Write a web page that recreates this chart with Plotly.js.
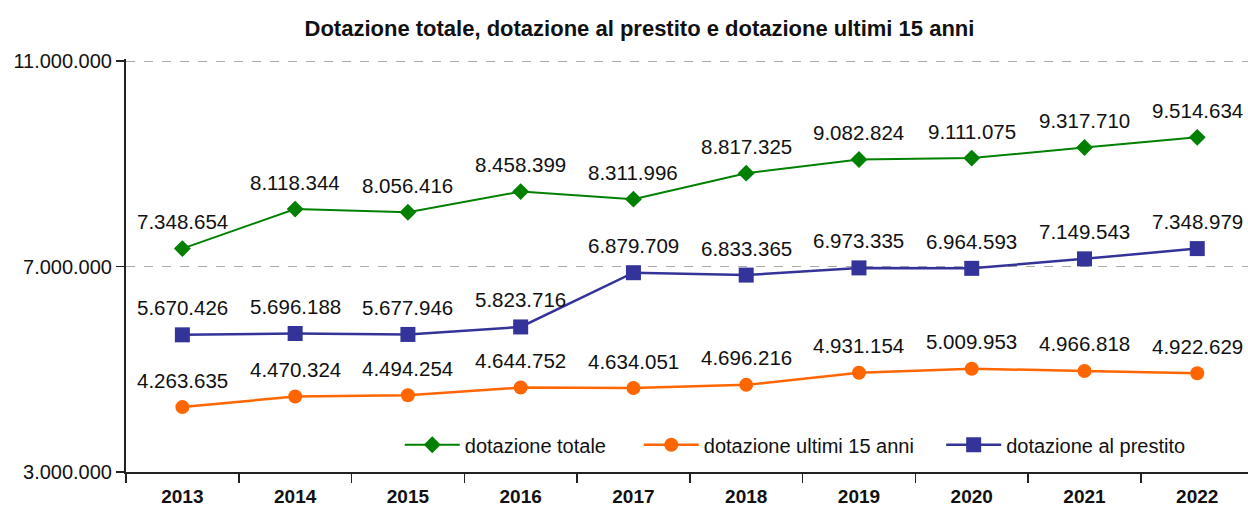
<!DOCTYPE html>
<html>
<head>
<meta charset="utf-8">
<script src="https://cdn.plot.ly/plotly-3.0.1.min.js"></script>
<style>html,body{margin:0;padding:0;background:#fff;}#chart{width:1248px;height:509px;}</style>
</head>
<body>
<div id="chart"></div>
<script>
const years = ['2013','2014','2015','2016','2017','2018','2019','2020','2021','2022'];
const dotazioneTotale = [7348654, 8118344, 8056416, 8458399, 8311996, 8817325, 9082824, 9111075, 9317710, 9514634];
const dotazioneUltimi15 = [4263635, 4470324, 4494254, 4644752, 4634051, 4696216, 4931154, 5009953, 4966818, 4922629];
const dotazionePrestito = [5670426, 5696188, 5677946, 5823716, 6879709, 6833365, 6973335, 6964593, 7149543, 7348979];
const seriesNames = ['dotazione totale', 'dotazione ultimi 15 anni', 'dotazione al prestito'];
const yTicks = [3000000, 7000000, 11000000];

function fmt(n){ return String(n).replace(/\B(?=(\d{3})+(?!\d))/g, '.'); }
const PAD1 = '\u00a0\u00a0\u00a0\u00a0\u00a0';
const PAD2 = '\u00a0\u00a0\u00a0\u00a0';

const FONT = 'Liberation Sans, Arial, sans-serif';

const traces = [
  {x: years, y: dotazioneTotale, name: seriesNames[0] + PAD1, type: 'scatter', mode: 'lines+markers',
   line: {color: '#008000', width: 2}, marker: {symbol: 'diamond', size: 13, color: '#008000'}},
  {x: years, y: dotazioneUltimi15, name: seriesNames[1] + PAD2, type: 'scatter', mode: 'lines+markers',
   line: {color: '#FF6600', width: 2.5}, marker: {symbol: 'circle', size: 14, color: '#FF6600'}},
  {x: years, y: dotazionePrestito, name: seriesNames[2], type: 'scatter', mode: 'lines+markers',
   line: {color: '#333399', width: 2.5}, marker: {symbol: 'square', size: 15, color: '#333399'}}
];

const annotations = [];
[dotazioneTotale, dotazioneUltimi15, dotazionePrestito].forEach(series => {
  series.forEach((v, i) => {
    annotations.push({x: i, y: v, xref: 'x', yref: 'y', text: fmt(v), showarrow: false,
      xanchor: 'center', yanchor: 'middle', yshift: 27,
      font: {family: FONT, size: 20.5, color: '#111'}});
  });
});

const layout = {
  width: 1248, height: 509,
  margin: {l: 126, r: 0, t: 59, b: 37},
  paper_bgcolor: '#fff', plot_bgcolor: '#fff',
  separators: ',.',
  font: {family: FONT, size: 20, color: '#111'},
  title: {text: '<b>Dotazione totale, dotazione al prestito e dotazione ultimi 15 anni</b>',
    x: 0.5124, xref: 'container', xanchor: 'center', y: 0.945, yref: 'container', yanchor: 'middle',
    font: {family: FONT, size: 22, color: '#111'}},
  xaxis: {type: 'category', range: [-0.5, 9.45], tickson: 'boundaries', ticks: 'outside', ticklen: 9,
    tickwidth: 1.5, tickcolor: '#222', showline: true, linecolor: '#222', linewidth: 2, showgrid: false,
    ticklabelstandoff: 6,
    tickfont: {family: FONT, size: 19, color: '#111', weight: 'bold'}, fixedrange: true},
  yaxis: {range: [3000000, 11040000], tickvals: yTicks, ticktext: yTicks.map(fmt), ticks: 'outside',
    ticklen: 8, tickwidth: 1.5, tickcolor: '#222', showline: true, linecolor: '#222', linewidth: 2,
    showgrid: true, gridcolor: '#aaaaaa', griddash: 'dash', gridwidth: 1, zeroline: false,
    tickfont: {family: FONT, size: 20, color: '#111'}, fixedrange: true},
  showlegend: true,
  legend: {orientation: 'h', x: 0.244, xanchor: 'left', y: 0.066, yanchor: 'middle',
    bgcolor: 'rgba(0,0,0,0)', font: {family: FONT, size: 20, color: '#111'}, itemwidth: 55},
  annotations: annotations
};

Plotly.newPlot('chart', traces, layout, {displayModeBar: false, staticPlot: true});
</script>
</body>
</html>
